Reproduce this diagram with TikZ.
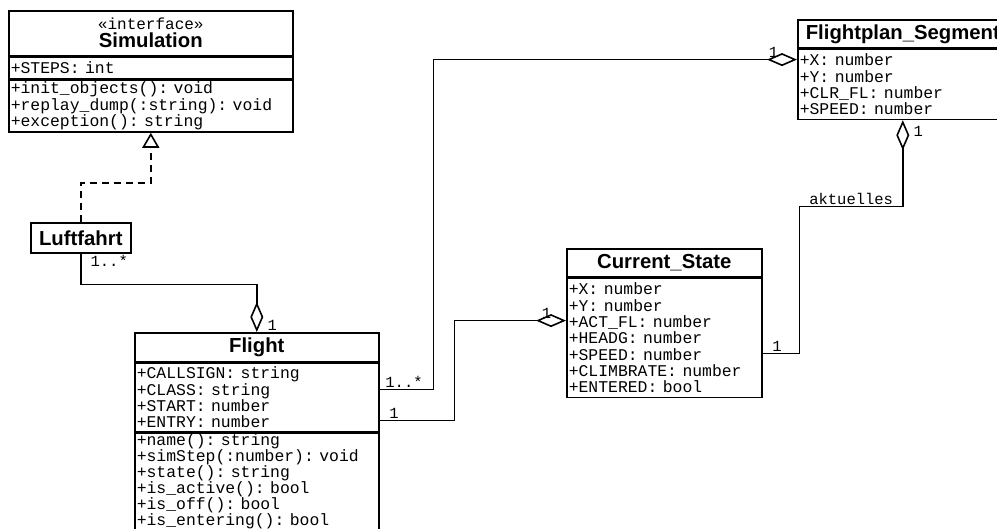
\documentclass[tikz,border=0pt]{standalone}
\usepackage{fontspec}
\setsansfont{Liberation Sans}
\setmonofont{Liberation Mono}
\usetikzlibrary{arrows.meta}
\frenchspacing

\tikzset{
  cls/.style={draw, line width=1.6pt, font=\sffamily\bfseries\fontsize{20.3}{21}\selectfont,
    align=center, inner sep=0pt, anchor=north west},
  part/.style={draw, line width=1.6pt, font=\ttfamily\fontsize{16.4}{16.3}\selectfont,
    align=left, inner xsep=2pt, inner ysep=0pt, anchor=north west},
  mult/.style={font=\ttfamily\fontsize{15.5}{16}\selectfont, inner sep=1pt},
  aggr/.style={line width=1.6pt, -{Diamond[open, length=30pt, width=13pt]}},
  realize/.style={line width=1.6pt, dash pattern=on 7pt off 5pt, -{Triangle[open, length=15pt, width=17pt]}},
}

\begin{document}
\begin{tikzpicture}[x=1pt, y=-1pt]
    \useasboundingbox (0,0) rectangle (997,529);
    \clip (0,0) rectangle (997,529);

    % klassen
    \node[cls, minimum width=284pt, minimum height=45pt] (sim) at (8,10)
        {{\ttfamily\mdseries\fontsize{16}{16}\selectfont «interface»}\\[-3pt] Simulation};
    \node[part, text width=280pt, minimum height=21pt] (simattr) at (sim.south west) {+STEPS: int};
    \node[part, text width=280pt, minimum height=52pt] (simops) at (simattr.south west)
        {+init\_objects(): void\\ +replay\_dump(:string): void\\ +exception(): string};

    \node[cls, minimum width=100pt, minimum height=30pt] (luft) at (30,222) {Luftfahrt};

    \node[cls, minimum width=244pt, minimum height=29pt] (flight) at (134,332) {Flight};
    \node[part, text width=240pt, minimum height=68pt] (fattr) at (flight.south west)
        {+CALLSIGN: string\\ +CLASS: string\\ +START: number\\ +ENTRY: number};
    \node[part, text width=240pt, inner ysep=0.8pt,
          font=\ttfamily\fontsize{16.4}{15.9}\selectfont] (fops) at (fattr.south west)
        {+name(): string\\ +simStep(:number): void\\ +state(): string\\
         +is\_active(): bool\\ +is\_off(): bool\\ +is\_entering(): bool\\[-6pt]\mbox{}};

    \node[cls, minimum width=195pt, minimum height=28pt] (cs) at (566,248) {Current\_State};
    \node[part, text width=191pt, minimum height=119pt] (csattr) at (cs.south west)
        {+X: number\\ +Y: number\\ +ACT\_FL: number\\ +HEADG: number\\
         +SPEED: number\\ +CLIMBRATE: number\\ +ENTERED: bool};

    \node[cls, minimum width=210pt, minimum height=28pt] (fs) at (797,19) {Flightplan\_Segment};
    \node[part, text width=206pt, minimum height=70pt] (fsattr) at (fs.south west)
        {+X: number\\ +Y: number\\ +CLR\_FL: number\\ +SPEED: number};

    % realisierung
    \draw[realize] (luft.north) -- ++(0,-39) -| (simops.south);

    % aggregationen
    \draw[aggr] (luft.south) node[mult, anchor=north west, xshift=8pt] {1..*}
        -- ++(0,31) -| (flight.north)
        node[mult, pos=1, anchor=south west, xshift=9pt] {1};
    \draw[aggr] ([yshift=-27pt]fattr.north east) node[mult, anchor=south west, xshift=4pt] {1..*}
        -- ++(54,0) |- ([yshift=-11pt]fsattr.north west)
        node[mult, pos=1, anchor=south east, xshift=-17pt] {1};
    \draw[aggr] ([yshift=-58pt]fattr.north east) node[mult, anchor=south west, xshift=8pt] {1}
        -- ++(75,0) |- ([yshift=-43pt]csattr.north west)
        node[mult, pos=1, anchor=south east, xshift=-13pt] {1};
    \draw[aggr] ([yshift=-76pt]csattr.north east) node[mult, anchor=south west, xshift=8pt] {1}
        -- ++(37,0) -- ++(0,-147) -| (fsattr.south)
        node[mult, pos=0.25, above] {aktuelles}
        node[mult, pos=1, anchor=north west, xshift=9pt, yshift=-4pt] {1};
\end{tikzpicture}
\end{document}
